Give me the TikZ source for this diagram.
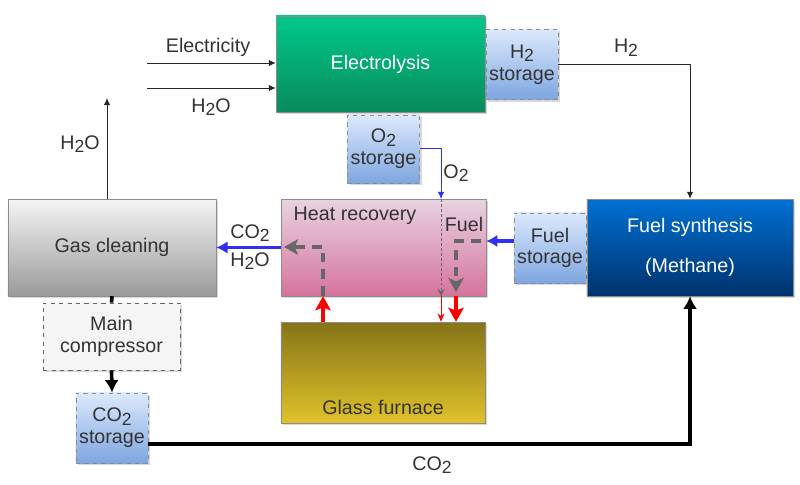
\documentclass[tikz,border=0pt]{standalone}
\usepackage{fontspec}
\setmainfont{Liberation Sans}
\usetikzlibrary{positioning, arrows.meta, shadows}

\definecolor{textGray}{HTML}{333333}
\definecolor{elecTop}{HTML}{00C98B}
\definecolor{elecBot}{HTML}{0A8A5D}
\definecolor{storeTop}{HTML}{DCE9FC}
\definecolor{storeBot}{HTML}{7EA6E0}
\definecolor{heatTop}{HTML}{E8D3E1}
\definecolor{heatBot}{HTML}{D5739D}
\definecolor{gasTop}{HTML}{F5F5F5}
\definecolor{gasBot}{HTML}{9A9A9A}
\definecolor{synTop}{HTML}{0070D2}
\definecolor{synBot}{HTML}{00336E}
\definecolor{furnTop}{HTML}{857418}
\definecolor{furnBot}{HTML}{E0C22A}
\definecolor{flowBlue}{HTML}{3030F0}
\definecolor{flowRed}{HTML}{FF0000}
\definecolor{innerGray}{HTML}{666666}

% lowered, near full size index as in the drawing
\newcommand{\chemSub}[1]{\raisebox{-0.35ex}{\fontsize{12.5}{12.5}\selectfont #1}}

\tikzset{
	boxShadow/.style={
		drop shadow={opacity=0.3, shadow xshift=1.5pt, shadow yshift=-1.5pt}
	},
	procBox/.style={
		draw=black!45,
		boxShadow,
		inner sep=1pt,
		align=center,
		text=textGray,
		font=\fontsize{14}{15}\selectfont
	},
	elecBox/.style={
		procBox,
		top color=elecTop,
		bottom color=elecBot,
		text=white,
		minimum width=5.22cm,
		minimum height=2.4cm
	},
	storeBox/.style={
		procBox,
		dashed,
		top color=storeTop,
		bottom color=storeBot,
		minimum width=1.8cm,
		minimum height=1.76cm,
		font=\fontsize{14}{15.5}\selectfont
	},
	heatBox/.style={
		procBox,
		top color=heatTop,
		bottom color=heatBot,
		minimum width=5.12cm,
		minimum height=2.42cm
	},
	gasBox/.style={
		procBox,
		top color=gasTop,
		bottom color=gasBot,
		minimum width=5.2cm,
		minimum height=2.42cm
	},
	synBox/.style={
		procBox,
		top color=synTop,
		bottom color=synBot,
		text=white,
		minimum width=5.15cm,
		minimum height=2.42cm
	},
	compBox/.style={
		procBox,
		dashed,
		draw=black!60,
		fill=gasTop,
		minimum width=3.42cm,
		minimum height=1.68cm,
		font=\fontsize{14}{16}\selectfont
	},
	furnBox/.style={
		procBox,
		top color=furnTop,
		bottom color=furnBot,
		minimum width=5.1cm,
		minimum height=2.52cm
	},
	flowLabel/.style={
		inner sep=1pt,
		text=textGray,
		font=\fontsize{14}{15}\selectfont
	},
	thinFlow/.style={
		draw=black!85,
		line width=0.6pt,
		-{Latex[length=5pt, width=4.5pt]}
	},
	o2Flow/.style={
		thinFlow,
		draw=flowBlue
	},
	fuelFlow/.style={
		draw=flowBlue,
		line width=2.4pt,
		-{Latex[length=8pt, width=9pt]}
	},
	heatFlow/.style={
		draw=flowRed,
		line width=2.6pt,
		-{Stealth[length=10pt, width=11pt, inset=2pt]}
	},
	hotThin/.style={
		draw=flowRed,
		line width=0.7pt,
		-{Stealth[length=6pt, width=5pt]}
	},
	innerFlow/.style={
		draw=innerGray,
		line width=2.6pt,
		dash pattern=on 7pt off 5pt,
		-{Stealth[length=10pt, width=11pt, inset=2.5pt]}
	},
	innerThin/.style={
		draw=innerGray,
		line width=0.6pt,
		dash pattern=on 2pt off 1.5pt,
		-{Stealth[length=5pt, width=5pt]}
	},
	co2Flow/.style={
		draw=black,
		line width=2.6pt
	},
}

\begin{document}
\begin{tikzpicture}[x=0.025cm, y=-0.025cm]
\useasboundingbox (0,0) rectangle (800,485);

% process blocks
\node[elecBox] (elec) at (380.5,64) {Electrolysis};
\node[storeBox] (h2Store) at (522,64.5) {H\chemSub{2}\\storage};
\node[storeBox, minimum height=1.7cm] (o2Store) at (383.5,149) {O\chemSub{2}\\storage};
\node[heatBox] (heatRec) at (383.5,247.5) {};
\node[gasBox] (gasClean) at (112,247.5) {Gas cleaning};
\node[storeBox, minimum height=1.75cm] (fuelStore) at (550,248) {Fuel\\storage};
\node[synBox] (fuelSyn) at (690,247.5) {Fuel synthesis\\[14pt](Methane)};
\node[compBox] (mainComp) at (111.5,336.5) {Main\\compressor};
\node[storeBox, minimum height=1.75cm] (co2Store) at (112,428) {CO\chemSub{2}\\storage};
\node[furnBox] (glass) at (383,372.5) {};

% texts inside blocks
\node[flowLabel] (hrText) at (355,216) {Heat recovery};
\node[flowLabel] (fuelText) at (464,224) {Fuel};
\node[flowLabel] (gfText) at (383,407) {Glass furnace};

% free ends and bends
\coordinate (elecIn) at (147,63);
\coordinate (waterIn) at (147,88);
\coordinate (waterOut) at (107,98);
\coordinate (o2In) at (441,199);
\coordinate (fuelOut) at (514,241);
\coordinate (fuelIn) at (481,241);
\coordinate (fuelBend) at (456,241);
\coordinate (fuelEnd) at (456,292);
\coordinate (exhaust) at (323,247);
\coordinate (exhaustEnd) at (284,247);
\coordinate (co2Out) at (148,444);

% feeds
\draw[thinFlow] (elecIn) -- (elec.west |- elecIn);
\draw[thinFlow] (waterIn) -- (elec.west |- waterIn);
\draw[thinFlow] (gasClean.north -| waterOut) -- (waterOut);
\draw[thinFlow] (h2Store.east) -| (fuelSyn.north);
\draw[o2Flow] (o2Store.east |- 0,148) -| (o2In);

% heat recovery
\draw[fuelFlow] (fuelOut) -- (heatRec.east |- fuelOut);
\draw[innerFlow] (fuelIn) -- (fuelBend) -- (fuelEnd);
\draw[innerThin] (o2In) -- (heatRec.south -| o2In);
\draw[hotThin] (heatRec.south -| o2In) -- (glass.north -| o2In);
\draw[heatFlow] (heatRec.south -| fuelBend) -- (glass.north -| fuelBend);
\draw[heatFlow] (glass.north -| exhaust) -- (heatRec.south -| exhaust);
\draw[innerFlow] (heatRec.south -| exhaust) -- (exhaust) -- (exhaustEnd);
\draw[fuelFlow] (heatRec.west) -- (gasClean.east);

% CO2 path
\draw[co2Flow] (gasClean.south) -- (mainComp.north);
\draw[co2Flow, -{Latex[length=9pt, width=10pt]}] (mainComp.south) -- (co2Store.north);
\draw[co2Flow, -{Latex[length=9pt, width=10pt]}] (co2Out) -| (fuelSyn.south);

% labels
\node[flowLabel] (elecLbl) at (208,47) {Electricity};
\node[flowLabel] (waterInLbl) at (211,107) {H\chemSub{2}O};
\node[flowLabel] (waterOutLbl) at (80,144) {H\chemSub{2}O};
\node[flowLabel] (h2Lbl) at (626,48) {H\chemSub{2}};
\node[flowLabel] (o2Lbl) at (456,173) {O\chemSub{2}};
\node[flowLabel] (co2CleanLbl) at (250,233) {CO\chemSub{2}};
\node[flowLabel] (waterCleanLbl) at (250,261) {H\chemSub{2}O};
\node[flowLabel] (co2Lbl) at (432,465) {CO\chemSub{2}};
\end{tikzpicture}
\end{document}
